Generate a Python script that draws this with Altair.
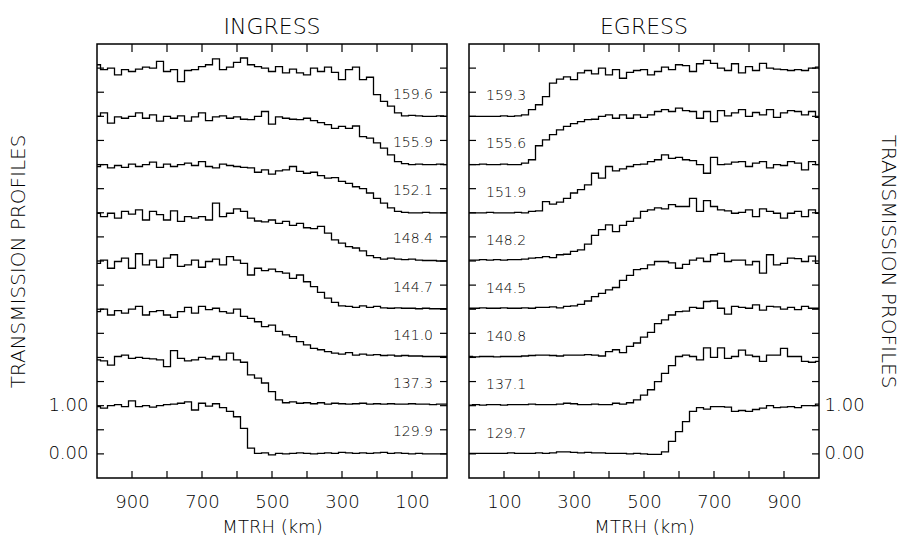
import altair as alt
import pandas as pd

# ---------------- data ----------------
# ingress profiles are read left to right, i.e. from 1000 km down to 0 km
ING_KM = list(range(1000, -1, -20))
EGR_KM = list(range(0, 1001, 20))

ING_LABELS = ["129.9", "137.3", "141.0", "144.7", "148.4", "152.1", "155.9", "159.6"]
EGR_LABELS = ["129.7", "137.1", "140.8", "144.5", "148.2", "151.9", "155.6", "159.3"]

ING_129_9 = [0.98, 0.95, 1.0, 1.02, 0.98, 1.1, 0.98, 1.0, 0.97, 1.0,
             1.02, 1.03, 1.05, 1.08, 0.91, 1.05, 0.99, 1.04, 0.96, 0.88,
             0.77, 0.53, 0.12, 0.01, 0.02, -0.02, 0.01, 0.0, 0.01, 0.02,
             0.01, 0.0, 0.01, 0.02, 0.01, 0.03, 0.02, 0.01, 0.02, 0.01,
             0.02, 0.03, 0.01, 0.02, 0.01, 0.0, 0.01, 0.0, 0.0, 0.0, 0.0]
ING_137_3 = [0.95, 0.93, 0.84, 1.02, 1.05, 0.98, 1.0, 0.98, 0.97, 0.95,
             0.81, 1.14, 0.98, 0.93, 0.95, 1.0, 0.97, 1.02, 0.95, 1.09,
             0.95, 0.9, 0.64, 0.57, 0.47, 0.29, 0.12, 0.06, 0.08, 0.05,
             0.06, 0.04, 0.06, 0.03, 0.05, 0.04, 0.03, 0.04, 0.05, 0.03,
             0.04, 0.03, 0.04, 0.03, 0.03, 0.04, 0.03, 0.03, 0.02, 0.03, 0.03]
ING_141_0 = [0.95, 1.0, 0.88, 0.97, 0.92, 1.0, 1.06, 0.88, 0.95, 0.97,
             0.88, 0.83, 0.95, 1.04, 0.92, 1.06, 0.99, 1.02, 0.95, 0.92,
             1.0, 0.85, 0.81, 0.74, 0.64, 0.67, 0.54, 0.47, 0.43, 0.33,
             0.26, 0.19, 0.16, 0.12, 0.09, 0.07, 0.1, 0.05, 0.07, 0.05,
             0.06, 0.04, 0.05, 0.03, 0.04, 0.03, 0.03, 0.02, 0.02, 0.02, 0.02]
ING_144_7 = [0.95, 1.02, 0.85, 0.99, 1.06, 0.85, 1.15, 0.92, 1.02, 0.87,
             1.06, 1.13, 0.89, 0.92, 1.02, 0.87, 0.99, 1.04, 0.92, 1.09,
             1.02, 0.95, 0.71, 0.85, 0.8, 0.83, 0.78, 0.75, 0.64, 0.71,
             0.57, 0.47, 0.35, 0.23, 0.14, 0.07, 0.06, 0.04, 0.07, 0.04,
             0.06, 0.03, 0.02, 0.03, 0.02, 0.02, 0.01, 0.02, 0.01, 0.01, 0.01]
ING_148_4 = [0.99, 0.92, 0.99, 0.89, 1.03, 0.97, 1.06, 0.85, 1.03, 0.96,
             0.85, 1.04, 0.82, 0.92, 0.89, 0.92, 0.85, 1.2, 0.92, 0.99,
             1.08, 1.03, 0.89, 0.83, 0.81, 0.85, 0.78, 0.82, 0.74, 0.78,
             0.69, 0.67, 0.72, 0.58, 0.44, 0.37, 0.3, 0.27, 0.21, 0.11,
             0.07, 0.04, 0.06, 0.04, 0.03, 0.04, 0.02, 0.01, 0.01, 0.0, 0.0]
ING_152_1 = [0.96, 1.0, 0.93, 0.98, 0.94, 1.01, 0.96, 1.0, 1.05, 0.94,
             1.01, 0.96, 1.0, 1.03, 0.98, 1.06, 0.96, 0.93, 1.01, 0.98,
             0.96, 0.94, 0.93, 0.84, 0.89, 0.80, 0.87, 0.89, 0.96, 0.86,
             0.82, 0.84, 0.77, 0.72, 0.73, 0.65, 0.61, 0.54, 0.5, 0.41,
             0.3, 0.2, 0.1, 0.03, 0.01, 0.0, 0.0, 0.01, 0.0, 0.0, 0.0]
ING_155_9 = [1.0, 1.07, 0.86, 0.99, 0.96, 1.0, 1.07, 0.96, 1.03, 0.9,
             1.0, 0.96, 1.01, 0.9, 0.99, 1.07, 0.91, 0.99, 1.01, 0.96,
             0.99, 0.94, 0.93, 1.0, 1.1, 0.84, 0.99, 0.96, 0.94, 0.93,
             0.96, 0.91, 0.87, 0.83, 0.75, 0.79, 0.75, 0.8, 0.58, 0.55,
             0.45, 0.34, 0.2, 0.06, 0.02, 0.0, 0.01, 0.0, 0.0, 0.01, 0.0]
ING_159_6 = [1.07, 0.97, 1.0, 0.86, 0.97, 0.93, 0.98, 1.02, 1.0, 1.14,
             0.93, 0.97, 0.72, 0.95, 0.97, 1.03, 1.07, 1.19, 0.97, 1.02,
             1.12, 1.21, 1.07, 1.03, 1.0, 0.93, 1.03, 0.90, 0.98, 0.90,
             0.86, 1.0, 0.93, 1.02, 0.91, 0.76, 0.97, 1.02, 0.76, 0.81,
             0.45, 0.31, 0.21, 0.07, 0.01, 0.02, 0.01, 0.0, 0.0, 0.01, 0.0]

EGR_129_7 = [0.01, 0.01, 0.01, 0.01, 0.01, 0.01, 0.02, 0.01, 0.01, 0.01,
             0.02, 0.01, 0.02, 0.04, 0.04, 0.03, 0.02, 0.03, 0.02, 0.02,
             0.01, 0.01, 0.01, 0.0, 0.01, 0.0, -0.01, -0.01, 0.04, 0.26,
             0.46, 0.67, 0.88, 0.96, 0.93, 0.98, 0.98, 0.97, 0.88, 0.9,
             0.88, 0.92, 0.95, 1.0, 0.96, 0.97, 0.98, 0.96, 1.0, 1.0, 1.03]
EGR_137_1 = [0.01, 0.02, 0.01, 0.02, 0.02, 0.01, 0.02, 0.02, 0.02, 0.03,
             0.02, 0.02, 0.02, 0.03, 0.05, 0.04, 0.02, 0.02, 0.03, 0.02,
             0.02, 0.05, 0.03, 0.06, 0.12, 0.22, 0.33, 0.5, 0.67, 0.83,
             1.02, 1.05, 1.02, 0.95, 1.2, 1.0, 1.2, 0.98, 1.02, 1.15,
             1.05, 1.02, 0.92, 1.05, 1.05, 1.19, 1.02, 1.02, 0.92, 0.9, 0.92]
EGR_140_8 = [0.02, 0.01, 0.02, 0.02, 0.01, 0.02, 0.02, 0.02, 0.03, 0.04,
             0.05, 0.05, 0.04, 0.03, 0.05, 0.05, 0.05, 0.06, 0.05, 0.03,
             0.12, 0.16, 0.1, 0.23, 0.3, 0.42, 0.52, 0.7, 0.78, 0.88,
             0.95, 0.96, 1.04, 1.02, 1.16, 1.17, 1.02, 0.9, 1.06, 1.04,
             1.02, 1.09, 0.98, 1.06, 1.05, 1.0, 1.04, 0.99, 1.06, 1.02, 1.02]
EGR_144_5 = [0.02, 0.02, 0.03, 0.02, 0.02, 0.03, 0.02, 0.02, 0.03, 0.02,
             0.04, 0.04, 0.05, 0.03, 0.06, 0.07, 0.1, 0.17, 0.26, 0.33,
             0.4, 0.45, 0.6, 0.7, 0.82, 0.84, 0.92, 0.99, 0.99, 0.96,
             0.85, 0.93, 1.02, 1.06, 0.99, 1.13, 1.16, 0.99, 1.02, 1.02,
             0.92, 0.99, 0.75, 1.13, 0.92, 0.95, 1.06, 1.05, 0.99, 1.1, 0.95]
EGR_148_2 = [0.02, 0.02, 0.03, 0.02, 0.03, 0.02, 0.03, 0.03, 0.04, 0.06,
             0.07, 0.09, 0.07, 0.13, 0.14, 0.2, 0.23, 0.35, 0.53, 0.65,
             0.75, 0.61, 0.74, 0.82, 0.89, 1.03, 1.06, 1.1, 1.08, 1.17,
             1.13, 1.13, 1.3, 1.03, 1.25, 1.13, 1.06, 1.04, 0.99, 1.01,
             1.06, 0.92, 1.08, 1.03, 0.99, 0.89, 0.99, 1.03, 0.92, 1.06, 0.99]
EGR_151_9 = [0.0, 0.0, 0.0, 0.01, 0.0, 0.0, 0.0, 0.01, 0.0, 0.03,
             0.04, 0.23, 0.18, 0.22, 0.3, 0.41, 0.48, 0.58, 0.82, 0.72,
             0.96, 0.87, 0.91, 0.96, 1.0, 1.01, 1.06, 1.1, 1.2, 1.13,
             1.15, 1.1, 1.08, 1.0, 0.82, 1.15, 1.0, 1.01, 1.05, 1.06,
             0.96, 1.03, 1.06, 0.93, 1.0, 0.98, 1.06, 1.03, 0.89, 1.06, 1.0]
EGR_155_6 = [0.0, 0.0, 0.01, 0.0, 0.0, 0.01, 0.0, 0.0, 0.03, 0.1,
             0.39, 0.51, 0.62, 0.72, 0.79, 0.85, 0.89, 0.93, 0.94, 1.0,
             1.03, 0.96, 1.03, 0.96, 1.03, 0.98, 1.03, 1.1, 1.14, 1.1,
             1.17, 1.12, 1.1, 0.96, 1.1, 0.89, 1.12, 1.01, 1.07, 1.14,
             1.0, 1.08, 1.03, 1.14, 0.98, 1.07, 1.12, 1.1, 1.03, 1.1, 0.98]
EGR_159_3 = [0.0, 0.0, 0.0, 0.0, 0.0, 0.01, 0.0, 0.01, 0.03, 0.14,
             0.24, 0.41, 0.69, 0.77, 0.82, 0.76, 0.9, 0.95, 0.88, 1.0,
             0.86, 0.97, 0.79, 0.91, 0.95, 0.97, 0.86, 0.93, 1.02, 0.97,
             1.07, 1.05, 0.93, 1.09, 1.16, 1.1, 1.0, 0.95, 1.09, 0.9,
             1.03, 0.95, 1.1, 1.0, 0.98, 0.97, 0.95, 0.97, 0.95, 1.0, 1.02]

ING_PROFILES = [ING_129_9, ING_137_3, ING_141_0, ING_144_7,
                ING_148_4, ING_152_1, ING_155_9, ING_159_6]
EGR_PROFILES = [EGR_129_7, EGR_137_1, EGR_140_8, EGR_144_5,
                EGR_148_2, EGR_151_9, EGR_155_6, EGR_159_3]

Y_TICKS = [0.0, 0.5, 1.0, 1.5, 2.0, 2.5, 3.0, 3.5, 4.0, 4.5, 5.0, 5.5, 6.0, 6.5, 7.0, 7.5, 8.0]
X_TICKS = [100, 200, 300, 400, 500, 600, 700, 800, 900]
Y_LABEL_VALUES = [0, 1]
X_LABEL_VALUES = [100, 300, 500, 700, 900]

# ---------------- layout ----------------
W, H = 350, 434
FONT = "DejaVu Sans"
TICK = 7


def build_df(km, profiles, labels):
    rows = []
    for k, (lab, vals) in enumerate(zip(labels, profiles)):
        for x, t in zip(km, vals):
            rows.append({"km": x, "t": t, "k": k, "profile": lab})
    return pd.DataFrame(rows)


def panel(title, km, profiles, labels, reverse, side, label_x, label_align, label_dy):
    xs = alt.Scale(domain=[0, 1000], reverse=reverse, nice=False, zero=False)
    ys = alt.Scale(domain=[-0.5, 8.5], nice=False, zero=False)
    xa = alt.Axis(values=X_LABEL_VALUES, ticks=False, domain=False, grid=False,
                  labelFontSize=18, labelPadding=15, labelColor="black",
                  labelFontWeight=300,
                  title="MTRH (km)", titleFontSize=18, titleFontWeight=300,
                  titleColor="black", titlePadding=7)
    ya = alt.Axis(values=Y_LABEL_VALUES, format=".2f", ticks=False, domain=False,
                  grid=False, orient=side, labelFontSize=18, labelFontWeight=300,
                  labelPadding=9 if side == "left" else 5, labelColor="black",
                  title="TRANSMISSION PROFILES", titleFontSize=20,
                  titleFontWeight=300, titleColor="black",
                  titlePadding=19 if side == "left" else 13)

    df = build_df(km, profiles, labels)
    lines = alt.Chart(df).transform_calculate(
        y="datum.k + datum.t"
    ).mark_line(interpolate="step", color="black", strokeWidth=1.3).encode(
        x=alt.X("km:Q", scale=xs, axis=xa),
        y=alt.Y("y:Q", scale=ys, axis=ya),
        detail="profile:N",
    )

    lab_df = pd.DataFrame({"label": labels, "k": list(range(len(labels)))})
    texts = alt.Chart(lab_df).transform_calculate(
        y="datum.k + %f" % label_dy
    ).mark_text(align=label_align, baseline="middle", fontSize=14, font=FONT,
                fontWeight=300, color="black").encode(
        x=alt.value(label_x),
        y=alt.Y("y:Q", scale=ys, axis=ya),
        text="label:N",
    )

    yt = pd.DataFrame({"v": Y_TICKS})
    xt = pd.DataFrame({"v": X_TICKS})
    ytl = alt.Chart(yt).mark_rule(color="black", strokeWidth=1.2).encode(
        y=alt.Y("v:Q", scale=ys, axis=ya), x=alt.value(0), x2=alt.value(TICK))
    ytr = alt.Chart(yt).mark_rule(color="black", strokeWidth=1.2).encode(
        y=alt.Y("v:Q", scale=ys, axis=ya), x=alt.value(W - TICK), x2=alt.value(W))
    xtb = alt.Chart(xt).mark_rule(color="black", strokeWidth=1.2).encode(
        x=alt.X("v:Q", scale=xs, axis=xa), y=alt.value(H - TICK), y2=alt.value(H))
    xtt = alt.Chart(xt).mark_rule(color="black", strokeWidth=1.2).encode(
        x=alt.X("v:Q", scale=xs, axis=xa), y=alt.value(0), y2=alt.value(TICK + 1))

    return alt.layer(lines, texts, ytl, ytr, xtb, xtt).properties(
        width=W, height=H,
        title=alt.TitleParams(title, fontSize=22, fontWeight=300, font=FONT,
                              color="black", offset=4),
    )


left = panel("INGRESS", ING_KM, ING_PROFILES, ING_LABELS, True, "left",
             336, "right", 0.45)
right = panel("EGRESS", EGR_KM, EGR_PROFILES, EGR_LABELS, False, "right",
              17, "left", 0.42)

chart = alt.hconcat(left, right, spacing=14).properties(
    background="white",
    padding={"left": 8, "top": 15, "right": 5, "bottom": 0},
).configure(font=FONT).configure_view(stroke="black", strokeWidth=1.5)

chart.save("out.html", embed_options={"renderer": "svg", "actions": False})
